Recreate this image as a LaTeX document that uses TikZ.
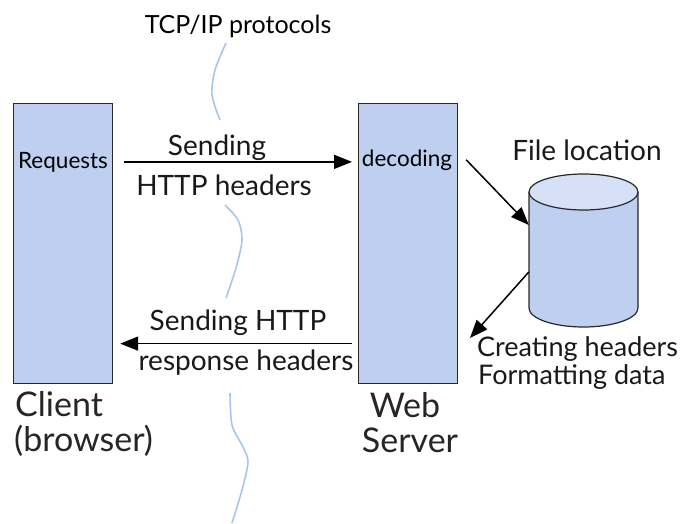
\documentclass[tikz,border=0pt]{standalone}
\usepackage{fontspec}
\setmainfont{Lato}
\usetikzlibrary{arrows.meta,calc}
\definecolor{boxblue}{RGB}{191,207,239}
\definecolor{topblue}{RGB}{214,224,246}
\definecolor{wireblue}{RGB}{168,196,240}
\definecolor{edge}{RGB}{40,40,40}
\tikzset{
  box/.style={draw=edge, line width=1.2pt, fill=boxblue, inner sep=0, anchor=north west},
  lbl/.style={font=\fontsize{28}{30}\selectfont, inner sep=0, text=black!90},
  lblb/.style={font=\fontsize{27}{29}\selectfont, inner sep=0, text=black!90},
  big/.style={font=\fontsize{34}{36}\selectfont, inner sep=0, text=black!85},
  small/.style={font=\fontsize{22.5}{24}\selectfont, inner sep=0},
  tiny/.style={font=\fontsize{25}{27}\selectfont, inner sep=0},
  arr/.style={line width=1.5pt, -{Triangle[length=18pt,width=14pt]}},
  wire/.style={draw=wireblue, line width=1.6pt},
}
\begin{document}
\begin{tikzpicture}[x=1pt,y=-1pt]
\path[use as bounding box] (0,0) rectangle (694,523);
% TCP/IP wire
\draw[wire] plot[smooth] coordinates {(226,43) (215,70) (212,95) (220,120)};
\draw[wire] plot[smooth] coordinates {(225,205) (238,220) (242,240) (236,268) (226,298)};
\draw[wire] plot[smooth] coordinates {(230,393) (232,425) (243,447) (248,462) (242,490) (232,523)};
\node[tiny, anchor=base] (tcp) at (238,33) {TCP/IP protocols};
% boxes
\node[box, minimum width=99pt, minimum height=280pt] (client) at (13,103) {};
\node[box, minimum width=99pt, minimum height=280pt] (server) at (358,103) {};
\node[small, anchor=base] (req) at (63,168) {Requests};
\node[small, anchor=base] (dec) at (407,166) {decoding};
% cylinder
\node[inner sep=0, minimum width=109pt, minimum height=153pt] (db) at (583.5,250.5) {};
\fill[boxblue] (529,192) -- (529,308) arc[start angle=180, end angle=360, x radius=54.5pt, y radius=19pt] -- (638,192) -- cycle;
\draw[edge, line width=1.2pt] (529,192) -- (529,308) arc[start angle=180, end angle=360, x radius=54.5pt, y radius=19pt] -- (638,192);
\draw[edge, line width=1.2pt, fill=topblue] (583.5,192) ellipse[x radius=54.5pt, y radius=18pt];
% labels
\node[lbl, anchor=base] (s1) at (217,155) {Sending};
\node[lbl, anchor=base] (s2) at (224,195) {HTTP headers};
\node[lbl, anchor=base] (r1) at (238,330) {Sending HTTP};
\node[lbl, anchor=base] (r2) at (246,370) {response headers};
\node[lbl, anchor=base] (fl) at (587,160) {File location};
\node[lblb, anchor=base west] (ch) at (477,356) {Creating headers};
\node[lblb, anchor=base west] (fd) at (478,384) {Formatting data};
\node[big, anchor=base west] (cl) at (15,416) {Client};
\node[big, anchor=base west] (br) at (14,451) {(browser)};
\node[big, anchor=base] (web) at (405,417) {Web};
\node[big, anchor=base] (srv) at (410,452) {Server};
% arrows
\coordinate (a4) at (470,338);
\draw[arr] ([xshift=11pt]client.east |- req) -- ([xshift=-6pt]server.west |- req);
\draw[arr] ([xshift=-6pt,yshift=-100pt]server.west) -- ([xshift=7pt,yshift=-100pt]client.east);
\draw[arr] ([xshift=8pt]server.east |- dec) -- ([yshift=25.5pt]db.west);
\draw[arr] ([yshift=-21.5pt]db.west) -- (a4);
\end{tikzpicture}
\end{document}
